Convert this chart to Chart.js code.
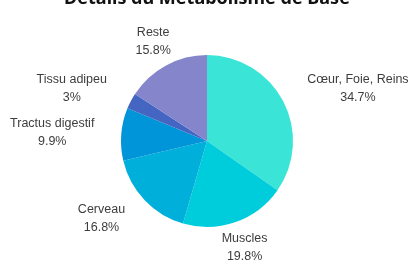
<!DOCTYPE html>
<html>
<head>
<meta charset="utf-8">
<script src="https://cdn.jsdelivr.net/npm/chart.js@4"></script>
<style>
  html, body { margin: 0; padding: 0; background: #fff; overflow: hidden; }
  #wrap { position: relative; width: 420px; height: 280px; top: -20px; }
</style>
</head>
<body>
<div id="wrap"><canvas id="myChart" width="420" height="280"></canvas></div>
<script>
const labels = ['Cœur, Foie, Reins', 'Muscles', 'Cerveau', 'Tractus digestif', 'Tissu adipeu', 'Reste'];
const values = [34.7, 19.8, 16.8, 9.9, 3, 15.8];
const colors = ['#3ae5d7', '#00cddc', '#00afda', '#0094d8', '#4466c2', '#8585cc'];

// labels outside the slices: name + percent
const outsideLabels = {
    id: 'outsideLabels',
    afterDatasetsDraw(chart) {
        const ctx = chart.ctx;
        const meta = chart.getDatasetMeta(0);
        ctx.save();
        ctx.font = '12.5px "Liberation Sans", Arial, sans-serif';
        ctx.fillStyle = '#3d3d3d';
        ctx.textBaseline = 'middle';
        meta.data.forEach((arc, i) => {
            const mid = (arc.startAngle + arc.endAngle) / 2;
            const r = arc.outerRadius + 27;
            const x = arc.x + Math.cos(mid) * r;
            const y = arc.y + Math.sin(mid) * r;
            const c = Math.cos(mid);
            let align = 'center';
            if (c > 0.5) align = 'left';
            else if (c < -0.5) align = 'right';
            const lines = [labels[i], values[i] + '%'];
            const w = Math.max(...lines.map(l => ctx.measureText(l).width));
            let cx = x;
            if (align === 'left') cx = x + w / 2;
            if (align === 'right') cx = x - w / 2;
            ctx.textAlign = 'center';
            ctx.fillText(lines[0], cx, y - 9);
            ctx.fillText(lines[1], cx, y + 9);
        });
        ctx.restore();
    }
};

const ctx = document.getElementById('myChart').getContext('2d');
const myChart = new Chart(ctx, {
    type: 'pie',
    data: {
        labels: labels,
        datasets: [{
            data: values,
            backgroundColor: colors,
            borderWidth: 0,
            hoverOffset: 0,
            radius: 86
        }]
    },
    options: {
        responsive: false,
        animation: false,
        layout: {
            padding: { left: 0, right: 6, top: 0, bottom: 0.6 }
        },
        plugins: {
            legend: { display: false },
            tooltip: { enabled: false },
            title: {
                display: true,
                text: 'Détails du Métabolisme de Base',
                color: '#111',
                font: { family: '"Noto Sans", sans-serif', size: 18, weight: 'bold', lineHeight: 1.2 },
                padding: { top: 8, bottom: 13 }
            }
        }
    },
    plugins: [outsideLabels]
});
</script>
</body>
</html>
